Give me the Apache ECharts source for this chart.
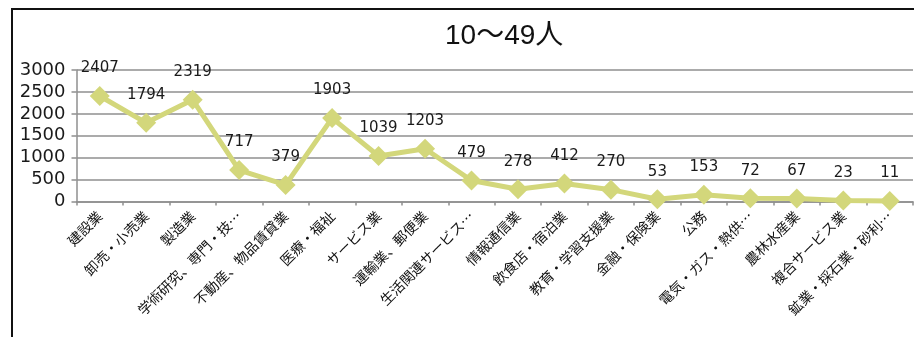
<!DOCTYPE html>
<html>
<head>
<meta charset="utf-8">
<script src="https://cdn.jsdelivr.net/npm/echarts@6/dist/echarts.min.js"></script>
<style>
  html, body { margin: 0; padding: 0; background: #fff; }
  #chart { width: 914px; height: 337px; }
</style>
</head>
<body>
<div id="chart"></div>
<script>
// Industries (labels as printed on the axis)
const categories = [
  '建設業', '卸売・小売業', '製造業', '学術研究、専門・技…', '不動産、物品賃貸業',
  '医療・福祉', 'サービス業', '運輸業、郵便業', '生活関連サービス…', '情報通信業',
  '飲食店・宿泊業', '教育・学習支援業', '金融・保険業', '公務', '電気・ガス・熱供…',
  '農林水産業', '複合サービス業', '鉱業・採石業・砂利…'
];
// Number of establishments with 10–49 employees
const counts = [2407, 1794, 2319, 717, 379, 1903, 1039, 1203, 479, 278, 412, 270, 53, 153, 72, 67, 23, 11];
const yTicks = { min: 0, max: 3000, step: 500 };
const titleText = '10〜49人';

const chart = echarts.init(document.getElementById('chart'), null, { renderer: 'canvas' });

const gridColor = '#8f8f8f';
const lineColor = '#d3d77b';

chart.setOption({
  animation: false,
  backgroundColor: '#ffffff',
  graphic: [
    {
      type: 'rect',
      shape: { x: 12, y: 9, width: 1200, height: 600 },
      style: { fill: 'none', stroke: '#111', lineWidth: 2 },
      silent: true,
      z: -1
    }
  ],
  title: {
    text: titleText,
    left: 445,
    top: 21,
    padding: 0,
    textStyle: {
      fontFamily: '"Liberation Sans", "Noto Sans CJK JP", sans-serif',
      fontSize: 28,
      fontWeight: 'normal',
      color: '#111',
      lineHeight: 30
    }
  },
  grid: { left: 76.5, right: 1, top: 70, bottom: 135.5, containLabel: false },
  xAxis: {
    type: 'category',
    data: categories,
    boundaryGap: true,
    axisLine: { show: true, lineStyle: { color: gridColor, width: 1.5 } },
    axisTick: { show: true, length: 4, inside: false, lineStyle: { color: gridColor, width: 1.5 } },
    axisLabel: {
      interval: 0,
      rotate: 45,
      margin: 12,
      color: '#111',
      fontSize: 14,
      fontFamily: '"Noto Sans CJK JP", sans-serif'
    },
    splitLine: { show: false }
  },
  yAxis: {
    type: 'value',
    min: yTicks.min,
    max: yTicks.max,
    interval: yTicks.step,
    axisLine: { show: true, lineStyle: { color: gridColor, width: 1.5 } },
    axisTick: { show: true, length: 5, lineStyle: { color: gridColor, width: 1.5 } },
    axisLabel: {
      margin: 11,
      color: '#1a1a1a',
      fontSize: 18,
      fontFamily: '"DejaVu Sans", sans-serif',
      formatter: (v) => String(v)
    },
    splitLine: { show: true, lineStyle: { color: gridColor, width: 1.5 } }
  },
  series: [
    {
      type: 'line',
      data: counts,
      symbol: 'diamond',
      symbolSize: 20,
      lineStyle: { color: lineColor, width: 5 },
      itemStyle: { color: lineColor, borderWidth: 0 },
      label: {
        show: true,
        position: 'top',
        distance: 10,
        color: '#1a1a1a',
        fontSize: 15,
        fontFamily: '"DejaVu Sans", sans-serif'
      },
      z: 3
    }
  ]
});
</script>
</body>
</html>
